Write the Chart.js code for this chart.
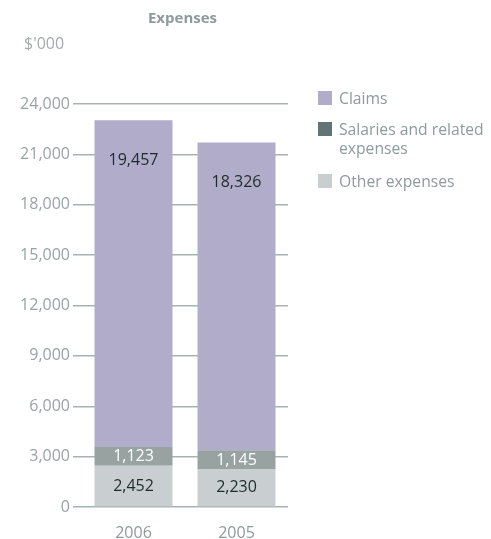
<!DOCTYPE html>
<html>
<head>
<meta charset="utf-8">
<script src="https://cdn.jsdelivr.net/npm/chart.js@4"></script>
<style>
  html, body { margin: 0; padding: 0; background: #fff; }
  #wrap { position: relative; width: 491px; height: 539px; font-family: "Open Sans", sans-serif; }
  #c { position: absolute; left: 0; top: 0; }
  .t { position: absolute; color: #8f9a9a; white-space: nowrap; }
  .title { left: 0; width: 365px; text-align: center; top: 7px; font-size: 15px; font-weight: bold; }
  .unit { left: 24px; top: 32px; font-size: 16px; color: #a3abab; }
  .lg { position: absolute; left: 318px; font-size: 15.7px; color: #8f9a9a; line-height: 19px; }
  .lg span.b { position: absolute; left: 0; top: 2px; width: 14px; height: 14px; }
  .lg div { margin-left: 21px; }
</style>
</head>
<body>
<div id="wrap">
  <canvas id="c" width="491" height="539"></canvas>
  <div class="t title">Expenses</div>
  <div class="t unit">$'000</div>
  <div id="legend"></div>
</div>
<script>
const categories = ['2006', '2005'];
const claims = [19457, 18326];
const salaries = [1123, 1145];
const other = [2452, 2230];
const yTicks = [0, 3000, 6000, 9000, 12000, 15000, 18000, 21000, 24000];

const seriesNames = ['Other expenses', 'Salaries and related expenses', 'Claims'];
const barColors = ['#c9cfd0', '#98a3a1', '#b0acca'];
const legendColors = ['#c9cfd0', '#627474', '#b0acca'];
const labelColors = ['#1f2b2b', '#ffffff', '#1f2b2b'];

const fmt = v => v.toLocaleString('en-US');

const labelPlugin = {
  id: 'segLabels',
  afterDatasetsDraw(chart) {
    const ctx = chart.ctx;
    ctx.save();
    ctx.font = '16px "Open Sans", sans-serif';
    ctx.textAlign = 'center';
    ctx.textBaseline = 'middle';
    chart.data.datasets.forEach((ds, di) => {
      const meta = chart.getDatasetMeta(di);
      meta.data.forEach((bar, i) => {
        const v = ds.data[i];
        const y = di === 2 ? bar.y + 40 : (bar.y + bar.base) / 2;
        ctx.fillStyle = labelColors[di];
        ctx.fillText(fmt(v), bar.x, y);
      });
    });
    ctx.restore();
  }
};

new Chart(document.getElementById('c'), {
  type: 'bar',
  data: {
    labels: categories,
    datasets: [
      { label: seriesNames[0], data: other, backgroundColor: barColors[0] },
      { label: seriesNames[1], data: salaries, backgroundColor: barColors[1] },
      { label: seriesNames[2], data: claims, backgroundColor: barColors[2] }
    ]
  },
  options: {
    responsive: false,
    animation: false,
    layout: { padding: { top: 104, right: 203, bottom: 0, left: 0 } },
    datasets: { bar: { barPercentage: 1, categoryPercentage: 0.757, borderWidth: 0 } },
    plugins: { legend: { display: false }, tooltip: { enabled: false } },
    scales: {
      x: {
        stacked: true,
        grid: { display: false, drawTicks: false },
        border: { display: false },
        ticks: { color: '#8f9a9a', font: { size: 16, family: '"Open Sans", sans-serif' }, padding: 17 },
        afterFit(s) { s.height = 32; }
      },
      y: {
        stacked: true,
        min: 0, max: 24000,
        afterBuildTicks(s) { s.ticks = yTicks.map(v => ({ value: v })); },
        grid: { color: '#a9b2b2', lineWidth: 1.5, tickLength: 9, drawTicks: true },
        border: { display: false },
        ticks: { color: '#9aa3a3', font: { size: 16, family: '"Open Sans", sans-serif' }, padding: 3, callback: v => fmt(v) },
        afterFit(s) { s.width = 82; }
      }
    }
  },
  plugins: [labelPlugin]
});

const legendItems = [
  { name: ['Claims'], color: legendColors[2], top: 89 },
  { name: ['Salaries and related', 'expenses'], color: legendColors[1], top: 120 },
  { name: ['Other expenses'], color: legendColors[0], top: 172 }
];
const lg = document.getElementById('legend');
legendItems.forEach(it => {
  const d = document.createElement('div');
  d.className = 'lg';
  d.style.top = it.top + 'px';
  const b = document.createElement('span');
  b.className = 'b';
  b.style.background = it.color;
  d.appendChild(b);
  const t = document.createElement('div');
  t.innerHTML = it.name.join('<br>');
  d.appendChild(t);
  lg.appendChild(d);
});
</script>
</body>
</html>
